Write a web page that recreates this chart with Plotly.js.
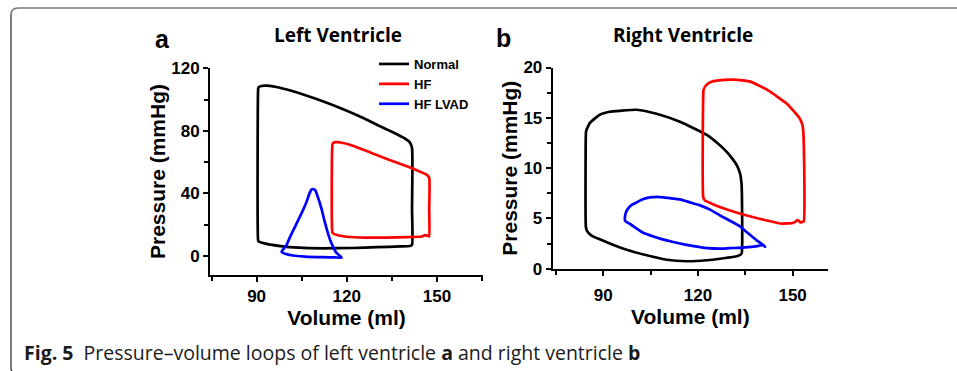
<!DOCTYPE html>
<html>
<head>
<meta charset="utf-8">
<script src="https://cdn.plot.ly/plotly-3.0.1.min.js"></script>
<style>
html,body{margin:0;padding:0;background:#fff;}
#chart{width:957px;height:371px;}
</style>
</head>
<body>
<div id="chart"></div>
<script>
// ---------- Left ventricle (a) ----------
const lvNormalV = [90.5, 90.5, 90.6, 91.5, 93.5, 97, 101, 106, 112, 118, 124, 130, 135, 139, 141, 141.7, 141.7, 141.7, 141, 138, 130, 122, 112, 104, 98, 93, 90.7, 90.5];
const lvNormalP = [10, 106.5, 107.8, 108.8, 109, 108, 106, 103, 99, 94.5, 89.5, 84, 79.5, 75.5, 72.5, 69, 30, 7, 6.3, 6, 5.5, 5, 4.8, 5.2, 6.2, 7.8, 9.2, 10];

const lvHfV = [115.2, 115.2, 115.4, 116.2, 118, 122, 128, 134, 140, 144, 146.5, 147.4, 147.4, 147.4, 147, 146, 145, 144, 140, 133, 126, 120, 117, 115.5, 115.2];
const lvHfP = [15, 71, 72.2, 72.8, 72.6, 70.5, 66, 61.5, 57.3, 54.2, 52, 50, 30, 12.5, 12.8, 13.3, 12.4, 12.2, 12, 11.7, 11.6, 12.2, 13.2, 14.3, 15];

const lvLvadV = [98.3, 100, 101.1, 103, 105, 106.5, 107.6, 108.2, 108.7, 109.5, 110.3, 111, 111.6, 112.5, 113.5, 114.5, 115.5, 116.5, 118.3, 116, 112, 106, 102, 99.5, 98.3];
const lvLvadP = [2.6, 7, 12, 19.5, 27.5, 34, 40, 42.3, 42.8, 42, 38, 34, 30, 23, 16, 10, 5.5, 2, -1.2, -1, -0.9, -0.5, 0.2, 1.3, 2.6];

// ---------- Right ventricle (b) ----------
const rvNormalV = [84.5, 84.5, 84.6, 85.8, 88.9, 92, 95.3, 100.6, 106.9, 114.3, 122.8, 126.5, 129.2, 131, 132.3, 133.4, 133.8, 133.9, 133.9, 133.5, 132.3, 129.2, 122.8, 116.5, 110.1, 103.8, 97.4, 91.1, 86.3, 84.8, 84.5];
const rvNormalP = [4.2, 13.3, 13.7, 14.5, 15.3, 15.6, 15.7, 15.8, 15.4, 14.6, 13.3, 12.4, 11.6, 10.9, 10.3, 9.4, 8.5, 7.8, 1.6, 1.4, 1.25, 1.1, 0.85, 0.75, 0.9, 1.35, 1.9, 2.65, 3.3, 3.8, 4.2];

const rvHfV = [121.7, 121.7, 121.8, 122.8, 124.5, 126, 131.3, 136.6, 140, 142.9, 146, 148.2, 150.5, 151.9, 153, 153.4, 153.5, 153, 152.5, 152, 151.5, 151, 150, 146.1, 141.9, 135.5, 129.2, 124.9, 122.2, 121.7];
const rvHfP = [7.1, 17.4, 17.8, 18.3, 18.6, 18.7, 18.8, 18.6, 18.1, 17.6, 16.9, 16.4, 15.6, 15.1, 14.4, 13.5, 4.7, 4.65, 4.6, 4.75, 4.85, 4.7, 4.55, 4.5, 4.8, 5.3, 5.9, 6.4, 6.8, 7.1];

const rvLvadV = [96.9, 96.9, 97.2, 97.9, 99, 100.6, 102.5, 104.8, 107, 109, 111.5, 114.3, 117.5, 120.7, 124, 127, 130, 133.4, 136, 138.7, 140.5, 141.3, 140.5, 139.5, 138.7, 136, 134.4, 130, 127, 123, 120.7, 116, 112.2, 108.5, 105.9, 102.5, 100.6, 98.5, 97.4, 96.9];
const rvLvadP = [4.8, 5.2, 5.6, 6.0, 6.35, 6.6, 6.9, 7.1, 7.15, 7.1, 7.0, 6.9, 6.6, 6.3, 5.85, 5.3, 4.8, 4.2, 3.5, 2.8, 2.4, 2.2, 2.35, 2.3, 2.25, 2.15, 2.1, 2.05, 2.0, 2.05, 2.15, 2.4, 2.66, 2.95, 3.2, 3.6, 4.0, 4.45, 4.65, 4.8];

const seriesNames = ['Normal', 'HF', 'HF LVAD'];
const seriesColors = ['#000000', '#ff0000', '#0000ff'];

const xTickVals = [90, 120, 150];
const lvYTickVals = [0, 40, 80, 120];
const rvYTickVals = [0, 5, 10, 15, 20];

// ---------- layout helpers ----------
const W = 957, H = 371;
const px = v => v / W;
const py = v => 1 - v / H;

const lineW = 2.7;
function loop(x, y, i, axisX, axisY, show) {
  return {
    type: 'scatter', mode: 'lines', x: x, y: y,
    name: seriesNames[i], showlegend: show,
    xaxis: axisX, yaxis: axisY,
    line: {color: seriesColors[i], width: lineW, shape: 'spline', smoothing: 0.5},
    hoverinfo: 'skip'
  };
}

const traces = [
  loop(lvNormalV, lvNormalP, 0, 'x', 'y', true),
  loop(lvHfV, lvHfP, 1, 'x', 'y', true),
  loop(lvLvadV, lvLvadP, 2, 'x', 'y', true),
  loop(rvNormalV, rvNormalP, 0, 'x2', 'y2', false),
  loop(rvHfV, rvHfP, 1, 'x2', 'y2', false),
  loop(rvLvadV, rvLvadP, 2, 'x2', 'y2', false)
];

const tickFont = {family: 'Liberation Sans, Arial, sans-serif', size: 17, color: '#000', weight: 'bold'};
const titleFont = {family: 'Liberation Sans, Arial, sans-serif', size: 21, color: '#000', weight: 'bold'};

function xAxis(domain, range, extra) {
  return Object.assign({
    domain: domain, range: range, showgrid: false, zeroline: false,
    showline: true, linecolor: '#000', linewidth: 2,
    ticks: 'outside', ticklen: 5, tickwidth: 2, tickcolor: '#000',
    tickvals: xTickVals, tickfont: tickFont,
    minor: {ticks: 'outside', ticklen: 4, tickwidth: 2, tickcolor: '#000', dtick: 15, tick0: 90, showgrid: false},
    title: {text: 'Volume (ml)', font: titleFont, standoff: 0},
    fixedrange: true
  }, extra || {});
}
function yAxis(domain, range, vals, minorD, anchor, extra) {
  return Object.assign({
    domain: domain, range: range, anchor: anchor, showgrid: false, zeroline: false,
    showline: true, linecolor: '#000', linewidth: 2,
    ticks: 'outside', ticklen: 5, tickwidth: 2, tickcolor: '#000',
    tickvals: vals, tickfont: tickFont,
    minor: {ticks: 'outside', ticklen: 4, tickwidth: 2, tickcolor: '#000', dtick: minorD, tick0: 0, showgrid: false},
    title: {text: 'Pressure (mmHg)', font: titleFont, standoff: 0},
    fixedrange: true
  }, extra || {});
}

const layout = {
  width: W, height: H,
  margin: {l: 0, r: 0, t: 0, b: 0},
  paper_bgcolor: '#ffffff', plot_bgcolor: '#ffffff',
  showlegend: true,
  legend: {
    x: px(374), y: py(49), xanchor: 'left', yanchor: 'top',
    bgcolor: 'rgba(0,0,0,0)', borderwidth: 0,
    font: {family: 'Liberation Sans, Arial, sans-serif', size: 13, color: '#000', weight: 'bold'},
    tracegroupgap: 0, itemwidth: 30
  },
  xaxis: xAxis([px(210), px(483)], [74.5, 165.3], {anchor: 'y'}),
  yaxis: yAxis([1 - 275 / H, 1 - 68 / H], [-12.3, 120.3], lvYTickVals, 20, 'x'),
  xaxis2: xAxis([px(552.7), px(828)], [74, 161.2], {anchor: 'y2', ticklabelstandoff: 5}),
  yaxis2: yAxis([1 - 268.8 / H, 1 - 67.5 / H], [0, 20], rvYTickVals, 2.5, 'x2'),
  annotations: [
    {text: 'Left Ventricle', xref: 'paper', yref: 'paper', x: px(337.5), y: py(35), xanchor: 'center', yanchor: 'middle', showarrow: false,
     font: {family: 'Open Sans, Liberation Sans, sans-serif', size: 19, color: '#000', weight: 'bold'}},
    {text: 'Right Ventricle', xref: 'paper', yref: 'paper', x: px(683.3), y: py(35), xanchor: 'center', yanchor: 'middle', showarrow: false,
     font: {family: 'Open Sans, Liberation Sans, sans-serif', size: 19, color: '#000', weight: 'bold'}},
    {text: 'a', xref: 'paper', yref: 'paper', x: px(162.5), y: py(39), xanchor: 'center', yanchor: 'middle', showarrow: false,
     font: {family: 'Liberation Sans, Arial, sans-serif', size: 25, color: '#000', weight: 'bold'}},
    {text: 'b', xref: 'paper', yref: 'paper', x: px(503.5), y: py(38), xanchor: 'center', yanchor: 'middle', showarrow: false,
     font: {family: 'Liberation Sans, Arial, sans-serif', size: 25, color: '#000', weight: 'bold'}},
    {text: '<b>Fig. 5</b>  Pressure–volume loops of left ventricle <b>a</b> and right ventricle <b>b</b>',
     xref: 'paper', yref: 'paper', x: px(22), y: py(352), xanchor: 'left', yanchor: 'middle', showarrow: false,
     font: {family: 'Open Sans, Noto Sans, sans-serif', size: 19.5, color: '#1a1a1a'}}
  ],
  shapes: [
    {type: 'path', xref: 'paper', yref: 'paper', layer: 'above',
     path: 'M ' + px(11) + ',' + py(15) + ' Q ' + px(11) + ',' + py(8) + ' ' + px(18) + ',' + py(8) + ' L 1,' + py(8),
     line: {color: '#7a7a7a', width: 1.6}},
    {type: 'path', xref: 'paper', yref: 'paper', layer: 'above',
     path: 'M ' + px(11) + ',' + py(15) + ' L ' + px(11) + ',' + py(368) + ' Q ' + px(11) + ',' + py(371) + ' ' + px(13) + ',' + py(372),
     line: {color: '#222', width: 1.2}}
  ]
};

Plotly.newPlot('chart', traces, layout, {displayModeBar: false, staticPlot: true});
</script>
</body>
</html>
